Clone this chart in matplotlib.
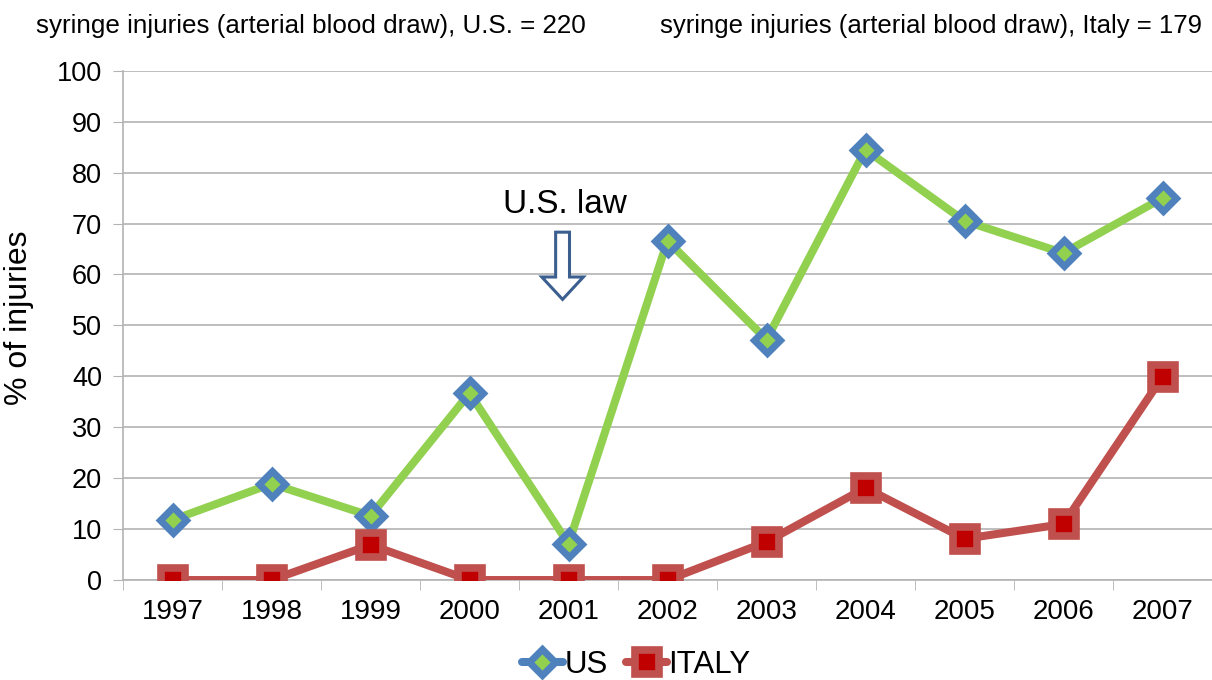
import matplotlib
matplotlib.use("Agg")
import matplotlib.pyplot as plt
from matplotlib.patches import FancyArrow
from matplotlib.lines import Line2D
import numpy as np

years = ["1997", "1998", "1999", "2000", "2001", "2002", "2003", "2004", "2005", "2006", "2007"]
us_values = [11.8, 18.9, 12.6, 36.7, 7.1, 66.6, 47.2, 84.5, 70.5, 64.2, 75.0]
italy_values = [0, 0, 6.9, 0, 0, 0, 7.5, 18.1, 8.1, 11.0, 39.9]
y_ticks = [0, 10, 20, 30, 40, 50, 60, 70, 80, 90, 100]

plt.rcParams['font.family'] = ['Liberation Sans', 'DejaVu Sans']

fig = plt.figure(figsize=(12.12, 6.8), dpi=100)
ax = fig.add_axes([0.1015, 0.147, 0.8985, 0.749])

x = np.arange(len(years))
grid_c = '#b3b3b3'

us_style = dict(marker='D', ms=13, mfc='#92d050', mec='#4f81bd', mew=5)
it_style = dict(marker='s', ms=17, mfc='#c00000', mec='#c0504d', mew=5.5)

ax.plot(x, us_values, color='#92d050', lw=5.8, zorder=3,
        solid_joinstyle='round', solid_capstyle='round', **us_style)
ax.plot(x, italy_values, color='#c0504d', lw=5.8, zorder=3, **it_style)

ax.set_xlim(-0.5, len(years) - 0.5)
ax.set_ylim(0, 100)
ax.set_yticks(y_ticks)
ax.set_xticks(x)
ax.set_xticklabels(years)
ax.set_xticks(np.arange(-0.5, len(years)), minor=True)
ax.tick_params(axis='x', which='major', length=0, labelsize=20, pad=14)
ax.tick_params(axis='x', which='minor', length=7, color=grid_c, direction='out')
ax.tick_params(axis='y', length=7, color=grid_c, labelsize=19.5, pad=8)
ax.yaxis.grid(True, color=grid_c, lw=1.2, zorder=0)
ax.set_axisbelow(True)
for s in ['top', 'right']:
    ax.spines[s].set_visible(False)
for s in ['left', 'bottom']:
    ax.spines[s].set_color(grid_c)
    ax.spines[s].set_linewidth(1.2)

ax.set_ylabel('% of injuries', fontsize=23)
ax.yaxis.set_label_coords(-0.082, 0.515)

# annotation
ax.text(3.96, 73.8, 'U.S. law', fontsize=24, ha='center', va='center')
arrow = FancyArrow(3.94, 68.3, 0, -13.2, width=0.14, head_width=0.42,
                   head_length=4.4, length_includes_head=True,
                   facecolor='white', edgecolor='#3b5f8f', lw=2.2, zorder=4)
ax.add_patch(arrow)

fig.text(0.030, 0.962, 'syringe injuries (arterial blood draw), U.S. = 220',
         fontsize=18.7, va='center', ha='left')
fig.text(0.5446, 0.962, 'syringe injuries (arterial blood draw), Italy = 179',
         fontsize=18.5, va='center', ha='left')

handles = [Line2D([], [], color='#4f81bd', lw=5.8, solid_capstyle='round', **us_style),
           Line2D([], [], color='#c0504d', lw=5.8, solid_capstyle='round', **it_style)]
leg = fig.legend(handles, ['US', 'ITALY'], loc='center',
                 bbox_to_anchor=(0.525, 0.022), ncol=2,
                 frameon=False, fontsize=22.5, handlelength=1.3,
                 handletextpad=0.05, columnspacing=0.6, borderaxespad=0)

fig.savefig('out.png', dpi=100)
